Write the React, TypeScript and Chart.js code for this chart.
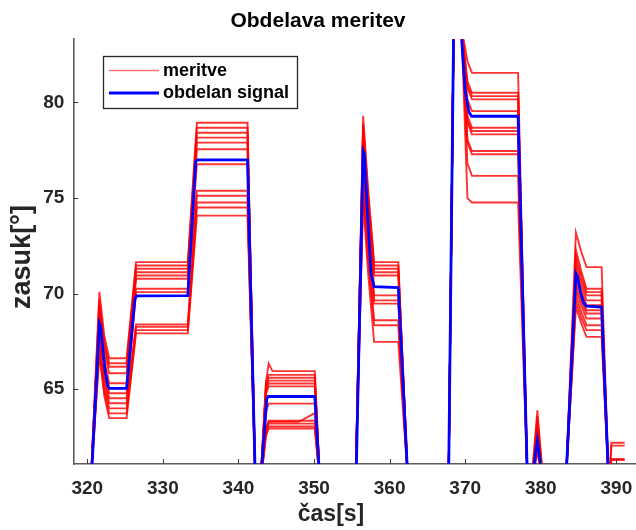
import React, { useEffect, useRef } from "react";
import { Chart, registerables } from "chart.js";

Chart.register(...registerables);

const FONT = '"Liberation Sans", Arial, Helvetica, sans-serif';

const naslov = "Obdelava meritev";
const osXNaslov = "čas[s]";
const osYNaslov = "zasuk[°]";
const legendaMeritve = "meritve";
const legendaSignal = "obdelan signal";

const xTicks = [320, 330, 340, 350, 360, 370, 380, 390];
const yTicks = [65, 70, 75, 80];

const X_MIN = 318.15;
const X_MAX = 392.6;
const Y_MIN = 61.09;
const Y_MAX = 83.31;

// time points shared by the measured traces
const casMeritev = [
  318.0, 320.45, 321.6, 322.25, 322.9, 325.2, 326.45, 333.3, 334.5, 341.2,
  342.25, 342.9, 343.65, 344.0, 344.5, 348.0, 350.1, 350.8, 355.5, 356.5,
  357.15, 357.95, 361.15, 362.45, 367.8, 368.7, 369.5, 370.3, 370.9, 377.0,
  378.25, 378.75, 379.55, 380.35, 383.3, 384.65, 385.35, 386.05, 388.05, 389.0,
  389.35, 391.1,
];

const meritev01 = [60, 60, 70.1, 67.8, 66.62, 66.62, 71.65, 71.65, 78.94, 78.94, 60, 60, 65.4, 66.35, 65.95, 65.95, 65.95, 60, 60, 79.3, 75.5, 71.65, 71.65, 60, 60, 92, 84, 82.15, 81.55, 81.55, 60, 60, 63.9, 60, 60, 73.2, 72.2, 71.39, 71.39, 60, 62.2, 62.2];
const meritev02 = [60, 60, 69.7, 67.5, 66.36, 66.36, 71.47, 71.47, 78.68, 78.68, 60, 60, 65.35, 65.75, 65.75, 65.75, 65.75, 60, 60, 78.9, 75.2, 71.47, 71.47, 60, 60, 92, 84, 81.1, 80.51, 80.51, 60, 60, 63.6, 60, 60, 72.3, 71.2, 70.26, 70.26, 60, 62.05, 62.05];
const meritev03 = [60, 60, 69.4, 67.3, 66.18, 66.18, 71.3, 71.3, 78.42, 78.42, 60, 60, 65.2, 65.6, 65.6, 65.6, 65.6, 60, 60, 78.7, 75.0, 71.3, 71.3, 60, 60, 92, 84, 80.9, 80.33, 80.33, 60, 60, 63.3, 60, 60, 72.0, 70.95, 70.08, 70.08, 60, 61.35, 61.35];
const meritev04 = [60, 60, 69.1, 67.0, 65.84, 65.84, 71.12, 71.12, 78.16, 78.16, 60, 60, 65.05, 65.45, 65.45, 65.45, 65.45, 60, 60, 78.4, 74.8, 71.12, 71.12, 60, 60, 92, 84, 80.75, 80.16, 80.16, 60, 60, 63.0, 60, 60, 71.7, 70.7, 69.91, 69.91, 60, 61.3, 61.3];
const meritev05 = [60, 60, 68.8, 66.5, 65.31, 65.31, 70.95, 70.95, 77.9, 77.9, 60, 60, 64.9, 65.3, 65.3, 65.3, 65.3, 60, 60, 78.1, 74.5, 70.95, 70.95, 60, 60, 92, 84, 80.15, 79.55, 79.55, 60, 60, 62.8, 60, 60, 71.4, 70.45, 69.65, 69.65, 60, 60, 60];
const meritev06 = [60, 60, 68.6, 66.3, 65.05, 65.05, 70.78, 70.78, 77.55, 77.55, 60, 60, 64.75, 65.15, 65.15, 65.15, 65.15, 60, 60, 77.8, 74.1, 70.34, 70.34, 60, 60, 92, 84, 79.3, 78.68, 78.68, 60, 60, 62.6, 60, 60, 71.1, 70.15, 69.4, 69.4, 60, 60, 60];
const meritev07 = [60, 60, 68.3, 66.0, 64.79, 64.79, 70.26, 70.26, 76.77, 76.77, 60, 60, 63.85, 64.25, 64.25, 64.25, 64.25, 60, 60, 77.5, 73.7, 69.91, 69.91, 60, 60, 92, 84, 79.1, 78.51, 78.51, 60, 60, 62.45, 60, 60, 70.8, 69.9, 69.13, 69.13, 60, 60, 60];
const meritev08 = [60, 60, 68.0, 65.75, 64.53, 64.53, 70.08, 70.08, 75.38, 75.38, 60, 60, 62.95, 63.35, 63.35, 63.35, 63.35, 60, 60, 77.2, 73.4, 69.65, 69.65, 60, 60, 92, 84, 78.95, 78.33, 78.33, 60, 60, 62.3, 60, 60, 70.5, 69.65, 68.96, 68.96, 60, 60, 60];
const meritev09 = [60, 60, 67.7, 65.5, 64.27, 64.27, 68.39, 68.39, 75.12, 75.12, 60, 60, 62.8, 63.2, 63.2, 63.2, 63.2, 60, 60, 76.5, 73.0, 69.48, 69.48, 60, 60, 92, 84, 78.05, 77.46, 77.46, 60, 60, 62.15, 60, 60, 70.2, 69.4, 68.7, 68.7, 60, 60, 60];
const meritev10 = [60, 60, 67.3, 65.15, 64.0, 64.0, 68.26, 68.26, 74.77, 74.77, 60, 60, 62.65, 63.05, 63.05, 63.05, 63.05, 60, 60, 75.8, 72.2, 68.61, 68.61, 60, 60, 92, 84, 77.9, 77.29, 77.29, 60, 60, 62.0, 60, 60, 69.9, 69.05, 68.35, 68.35, 60, 60, 60];
const meritev11 = [60, 60, 67.0, 64.9, 63.74, 63.74, 68.09, 68.09, 74.51, 74.51, 60, 60, 62.55, 62.95, 62.95, 62.95, 62.95, 60, 60, 75.3, 71.8, 68.35, 68.35, 60, 60, 92, 84, 76.8, 76.16, 76.16, 60, 60, 61.85, 60, 60, 69.6, 68.75, 68.09, 68.09, 60, 60, 60];
const meritev12 = [60, 60, 66.8, 64.65, 63.49, 63.49, 67.92, 67.92, 74.08, 74.08, 60, 60, 62.9, 63.3, 63.3, 63.3, 63.75, 60, 60, 74.8, 71.1, 67.48, 67.48, 60, 60, 92, 84, 75.0, 74.77, 74.77, 60, 60, 61.7, 60, 60, 69.3, 68.45, 67.74, 67.74, 60, 60, 60];

const meritve = [
  meritev01, meritev02, meritev03, meritev04, meritev05, meritev06,
  meritev07, meritev08, meritev09, meritev10, meritev11, meritev12,
];

// processed (averaged) signal
const casSignal = [
  318.0, 320.5, 321.6, 321.75, 322.35, 322.7, 322.9, 325.2, 326.3, 326.5,
  333.3, 334.35, 334.55, 341.2, 342.25, 342.9, 343.75, 343.95, 350.1, 350.8,
  355.55, 356.5, 356.65, 357.1, 357.55, 357.95, 361.15, 362.45, 367.8, 368.7,
  369.0, 369.5, 370.0, 370.5, 370.85, 377.0, 378.25, 378.75, 379.55, 380.35,
  383.3, 384.65, 384.85, 385.3, 385.7, 386.05, 388.05, 389.0, 392.6,
];
const obdelanSignal = [
  60, 60, 68.45, 68.3, 66.0, 65.2, 65.05, 65.05, 69.7, 69.88,
  69.9, 76.9, 77.0, 77.0, 60, 60, 64.5, 64.62, 64.62, 60,
  60, 77.45, 77.3, 74.0, 71.0, 70.37, 70.32, 60, 60, 92,
  90, 83.5, 80.6, 79.5, 79.28, 79.28, 60, 60, 62.3, 60,
  60, 71.05, 70.9, 70.0, 69.5, 69.35, 69.3, 60, 60,
];

const AX_COLOR = "#5c5c5c";
const TXT_COLOR = "#262626";

const decorPlugin = {
  id: "decor",
  afterDatasetsDraw(chart: any) {
    const { ctx, chartArea, scales } = chart;
    const xs = scales.x;
    const ys = scales.y;
    ctx.save();
    // inward tick marks
    ctx.strokeStyle = "#3a3a3a";
    ctx.lineWidth = 1;
    ctx.beginPath();
    for (const v of xTicks) {
      const px = Math.round(xs.getPixelForValue(v)) + 0.5;
      ctx.moveTo(px, chartArea.bottom);
      ctx.lineTo(px, chartArea.bottom - 5);
    }
    for (const v of yTicks) {
      const py = Math.round(ys.getPixelForValue(v)) + 0.5;
      ctx.moveTo(chartArea.left, py);
      ctx.lineTo(chartArea.left + 5, py);
    }
    ctx.stroke();

    // legend box
    const lx = 103.5, ly = 56.5, lw = 194, lh = 52;
    ctx.fillStyle = "#ffffff";
    ctx.fillRect(lx, ly, lw, lh);
    ctx.strokeStyle = "#262626";
    ctx.lineWidth = 1.3;
    ctx.strokeRect(lx, ly, lw, lh);
    ctx.lineCap = "butt";
    ctx.strokeStyle = "rgba(255,0,0,0.55)";
    ctx.lineWidth = 1.6;
    ctx.beginPath();
    ctx.moveTo(109, 70.5);
    ctx.lineTo(159, 70.5);
    ctx.stroke();
    ctx.strokeStyle = "#0000ff";
    ctx.lineWidth = 2.8;
    ctx.beginPath();
    ctx.moveTo(109, 93);
    ctx.lineTo(159, 93);
    ctx.stroke();
    ctx.fillStyle = "#000000";
    ctx.font = `bold 18px ${FONT}`;
    ctx.textAlign = "left";
    ctx.textBaseline = "middle";
    ctx.fillText(legendaMeritve, 163, 71);
    ctx.fillText(legendaSignal, 163, 93);

    // axis titles
    ctx.fillStyle = TXT_COLOR;
    ctx.font = `bold 23px ${FONT}`;
    ctx.textAlign = "center";
    ctx.textBaseline = "middle";
    ctx.fillText(osXNaslov, 331, 515);
    ctx.font = `bold 27px ${FONT}`;
    ctx.translate(23, 257);
    ctx.rotate(-Math.PI / 2);
    ctx.fillText(osYNaslov, 0, 0);
    ctx.restore();
  },
};

export default function App() {
  const ref = useRef<HTMLCanvasElement | null>(null);

  useEffect(() => {
    document.body.style.margin = "0";
    const canvas = ref.current;
    if (!canvas) return;
    const redSets = meritve.map((tr) => ({
      label: legendaMeritve,
      data: casMeritev.map((x, i) => ({ x, y: tr[i] })),
      borderColor: "rgba(255,0,0,0.8)",
      borderWidth: 1.9,
      pointRadius: 0,
      fill: false,
      tension: 0,
      order: 1,
    }));
    const chart = new Chart(canvas, {
      type: "line",
      data: {
        datasets: [
          ...redSets,
          {
            label: legendaSignal,
            data: casSignal.map((x, i) => ({ x, y: obdelanSignal[i] })),
            borderColor: "#0000ff",
            borderWidth: 2.8,
            pointRadius: 0,
            fill: false,
            tension: 0,
            order: 0,
          },
        ],
      } as any,
      options: {
        responsive: false,
        animation: false,
        devicePixelRatio: 1,
        layout: { padding: 0, autoPadding: false },
        plugins: {
          legend: { display: false },
          tooltip: { enabled: false },
          title: {
            display: true,
            text: naslov,
            color: "#000000",
            font: { family: FONT, size: 21, weight: "bold" },
            padding: { top: 9, bottom: 5 },
          },
        },
        scales: {
          x: {
            type: "linear",
            min: X_MIN,
            max: X_MAX,
            afterBuildTicks: (s: any) => {
              s.ticks = xTicks.map((v) => ({ value: v }));
            },
            afterFit: (s: any) => {
              s.height = 66;
              s.paddingLeft = 0;
              s.paddingRight = 0;
            },
            grid: { display: false, drawTicks: false },
            border: { display: true, color: AX_COLOR, width: 1.6 },
            ticks: {
              color: TXT_COLOR,
              font: { family: FONT, size: 19, weight: "bold" },
              padding: 13,
              maxRotation: 0,
              autoSkip: false,
            },
          },
          y: {
            type: "linear",
            min: Y_MIN,
            max: Y_MAX,
            afterBuildTicks: (s: any) => {
              s.ticks = yTicks.map((v) => ({ value: v }));
            },
            afterFit: (s: any) => {
              s.width = 73.3;
              s.paddingTop = 0;
              s.paddingBottom = 0;
            },
            grid: { display: false, drawTicks: false },
            border: { display: true, color: AX_COLOR, width: 1.6 },
            ticks: {
              color: TXT_COLOR,
              font: { family: FONT, size: 19, weight: "bold" },
              padding: 9,
              autoSkip: false,
            },
          },
        },
      } as any,
      plugins: [decorPlugin],
    });
    return () => chart.destroy();
  }, []);

  return (
    <canvas
      ref={ref}
      width={636}
      height={530}
      style={{ display: "block", width: 636, height: 530 }}
    />
  );
}
